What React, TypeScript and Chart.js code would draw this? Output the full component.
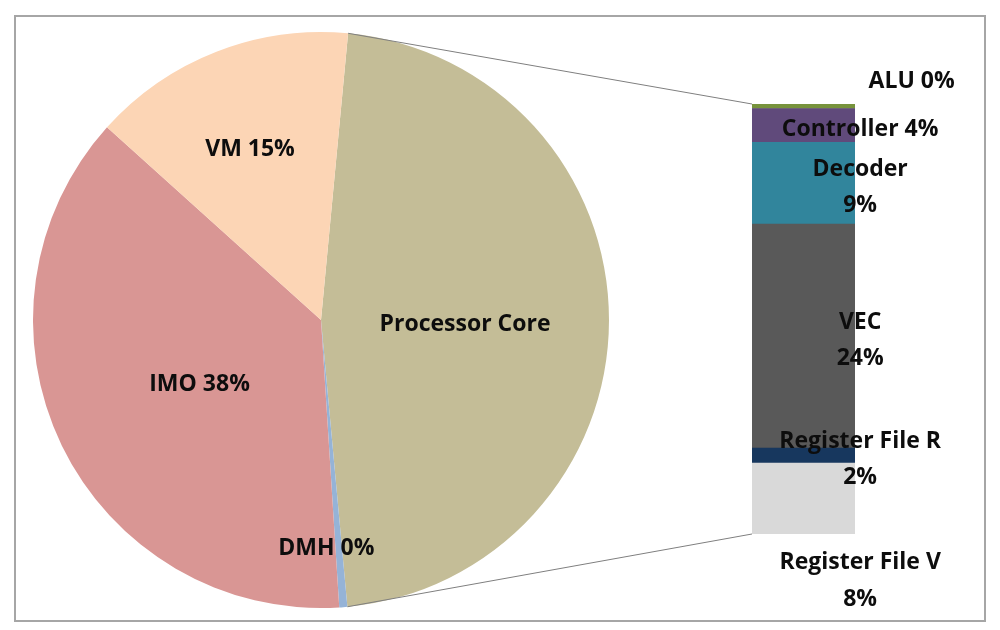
import React, { useEffect, useRef } from "react";
import { Chart, registerables } from "chart.js";
Chart.register(...registerables);

// ---- data ----
const pieLabels = ["Processor Core", "DMH", "IMO", "VM"];
const otherValues = [0.45, 37.68, 14.83]; // DMH, IMO, VM
const subLabels = ["Register File V", "Register File R", "VEC", "Decoder", "Controller", "ALU"];
const subValues = [7.75, 1.66, 24.49, 8.95, 3.7, 0.49];

// ---- styles ----
const pieColors = ["#C4BD97", "#95B3D7", "#D99694", "#FCD5B5"];
const subColors = ["#D9D9D9", "#17375E", "#595959", "#31859C", "#604A7B", "#77933C"];
const pieShowPct = [false, true, true, true];
const pieLabelRadius = [0.5, 0.78, 0.48, 0.65];
const pieLabelDx = [0, -12, 3, -3];
const subLabelMode = ["below", "center2", "center2", "center2", "center1", "above"];
const FONT = "bold 23px 'Open Sans'";
const TEXT = "#0D0D0D";
const LINE_H = 36;
const TEXT_DY = 4;

const subTotal = subValues.reduce((a, b) => a + b, 0);
const pieValues = [subTotal, ...otherValues];
const pieTotal = pieValues.reduce((a, b) => a + b, 0);
const pct = (v: number) => Math.round((v / pieTotal) * 100) + "%";

export default function App() {
  const pieRef = useRef<HTMLCanvasElement>(null);
  const barRef = useRef<HTMLCanvasElement>(null);

  useEffect(() => {
    const barChart = new Chart(barRef.current!, {
      type: "bar",
      data: {
        labels: [""],
        datasets: subLabels.map((l, i) => ({
          label: l,
          data: [subValues[i]],
          backgroundColor: subColors[i],
          borderWidth: 0,
          barPercentage: 1,
          categoryPercentage: 1,
        })),
      },
      options: {
        responsive: false,
        animation: false,
        layout: { padding: { left: 752, right: 145, top: 104, bottom: 96 } },
        plugins: { legend: { display: false }, tooltip: { enabled: false } },
        scales: {
          x: { display: false, stacked: true },
          y: { display: false, stacked: true, min: 0, max: subTotal },
        },
      },
      plugins: [
        {
          id: "subLabels",
          afterDatasetsDraw(chart: any) {
            const ctx = chart.ctx;
            ctx.save();
            ctx.font = FONT;
            ctx.fillStyle = TEXT;
            ctx.textAlign = "center";
            ctx.textBaseline = "middle";
            subLabels.forEach((name, i) => {
              const el = chart.getDatasetMeta(i).data[0];
              const { x, y, base, width } = el.getProps(["x", "y", "base", "width"], true);
              const top = Math.min(y, base);
              const bot = Math.max(y, base);
              const mid = (top + bot) / 2 + TEXT_DY;
              const lx = x + width * 0.55;
              const p = pct(subValues[i]);
              const mode = subLabelMode[i];
              if (mode === "center1") {
                ctx.fillText(name + " " + p, lx, mid);
              } else if (mode === "center2") {
                ctx.fillText(name, lx, mid - LINE_H / 2);
                ctx.fillText(p, lx, mid + LINE_H / 2);
              } else if (mode === "below") {
                ctx.fillText(name, lx, bot + 24 + TEXT_DY);
                ctx.fillText(p, lx, bot + 24 + LINE_H + 1 + TEXT_DY);
              } else if (mode === "above") {
                ctx.fillText(name + " " + p, x + width * 1.05, top - 27 + TEXT_DY);
              }
            });
            ctx.restore();
          },
        },
      ],
    } as any);

    const pieChart = new Chart(pieRef.current!, {
      type: "pie",
      data: {
        labels: pieLabels,
        datasets: [
          {
            data: pieValues,
            backgroundColor: pieColors,
            borderWidth: 0,
          },
        ],
      },
      options: {
        responsive: false,
        animation: false,
        rotation: 5.4,
        layout: { padding: { left: 33, top: 32, right: 391, bottom: 22 } },
        plugins: { legend: { display: false }, tooltip: { enabled: false } },
      },
      plugins: [
        {
          id: "pieLabels",
          afterDatasetsDraw(chart: any) {
            const ctx = chart.ctx;
            const arcs = chart.getDatasetMeta(0).data;
            ctx.save();
            // connector lines to the stacked bar
            const bm0 = barChart.getDatasetMeta(0).data[0] as any;
            const bmN = barChart.getDatasetMeta(subLabels.length - 1).data[0] as any;
            const b0 = bm0.getProps(["x", "y", "base", "width"], true);
            const bN = bmN.getProps(["x", "y", "base", "width"], true);
            const barLeft = b0.x - b0.width / 2;
            const barBottom = Math.max(b0.y, b0.base);
            const barTop = Math.min(bN.y, bN.base);
            const pc = arcs[0].getProps(["x", "y", "startAngle", "endAngle", "outerRadius"], true);
            ctx.strokeStyle = "#7F7F7F";
            ctx.lineWidth = 1;
            ctx.beginPath();
            ctx.moveTo(pc.x + Math.cos(pc.startAngle) * pc.outerRadius, pc.y + Math.sin(pc.startAngle) * pc.outerRadius);
            ctx.lineTo(barLeft, barTop);
            ctx.moveTo(pc.x + Math.cos(pc.endAngle) * pc.outerRadius, pc.y + Math.sin(pc.endAngle) * pc.outerRadius);
            ctx.lineTo(barLeft, barBottom);
            ctx.stroke();
            // labels
            ctx.font = FONT;
            ctx.fillStyle = TEXT;
            ctx.textAlign = "center";
            ctx.textBaseline = "middle";
            arcs.forEach((arc: any, i: number) => {
              const a = arc.getProps(["x", "y", "startAngle", "endAngle", "outerRadius"], true);
              const m = (a.startAngle + a.endAngle) / 2;
              const r = a.outerRadius * pieLabelRadius[i];
              const txt = pieShowPct[i] ? pieLabels[i] + " " + pct(pieValues[i]) : pieLabels[i];
              ctx.fillText(txt, a.x + Math.cos(m) * r + pieLabelDx[i], a.y + Math.sin(m) * r + TEXT_DY);
            });
            ctx.restore();
          },
        },
      ],
    } as any);

    return () => {
      pieChart.destroy();
      barChart.destroy();
    };
  }, []);

  const canvasStyle: React.CSSProperties = { position: "absolute", left: 0, top: 0, width: 1000, height: 630 };
  return (
    <div style={{ position: "fixed", left: 0, top: 0, width: 1000, height: 630, background: "#fff", overflow: "hidden" }}>
      <div
        style={{
          position: "absolute",
          left: 14,
          top: 15,
          width: 972,
          height: 607,
          border: "2px solid #A6A6A6",
          boxSizing: "border-box",
        }}
      />
      <canvas ref={pieRef} width={1000} height={630} style={canvasStyle} />
      <canvas ref={barRef} width={1000} height={630} style={canvasStyle} />
    </div>
  );
}
